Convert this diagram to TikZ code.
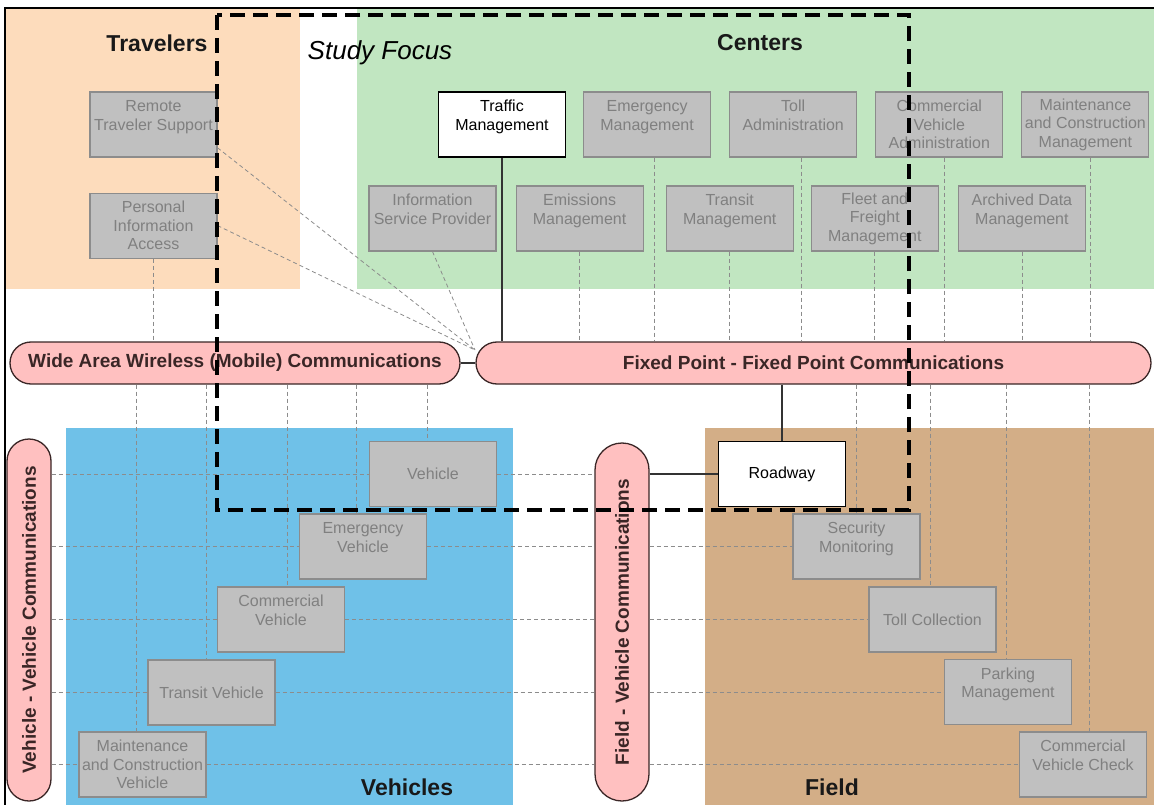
\documentclass[tikz,border=0pt]{standalone}
\usepackage{fontspec}
\setmainfont{Liberation Sans}
\usetikzlibrary{shapes.misc, positioning, calc}
\definecolor{travel_peach}{HTML}{FDDCBC}
\definecolor{center_green}{HTML}{C1E6C1}
\definecolor{vehicle_blue}{HTML}{6FC1E8}
\definecolor{field_tan}{HTML}{D3AE87}
\definecolor{bus_pink}{HTML}{FFC0C0}
\definecolor{bus_line}{HTML}{3A2626}
\definecolor{unit_gray}{HTML}{C0C0C0}
\tikzset{
  component/.style={rectangle,draw=black!45,fill=unit_gray,text=black!50,line width=1.1pt,minimum width=127pt,minimum height=65pt,inner sep=1pt,align=center,font={\fontsize{16pt}{18.5pt}\selectfont}},
  component_f/.style={component,draw=black,fill=white,text=black},
  commbus/.style={rounded rectangle,draw=bus_line,fill=bus_pink,line width=1.3pt,minimum height=42pt,inner sep=2pt,text=bus_line,font={\fontsize{19pt}{22pt}\selectfont\bfseries}},
  commbus_v/.style={commbus,rotate=90},
  grouplabel/.style={font={\fontsize{23pt}{26pt}\selectfont\bfseries},text=black!90},
  flow/.style={dash pattern=on 4pt off 3pt,draw=black!45,line width=0.8pt},
  wire/.style={draw=black!80,line width=1.1pt},
  focusframe/.style={draw=black,line width=4pt,dash pattern=on 15pt off 8pt},
}
\pgfdeclarelayer{back}
\pgfdeclarelayer{front}
\pgfsetlayers{back,main,front}

\begin{document}
\begin{tikzpicture}[x=1pt,y=-1pt]
	\useasboundingbox (0,0) rectangle (1154,805);
	\begin{pgfonlayer}{back}
	    \fill[travel_peach] (6,9) rectangle (300,289);
	    \fill[center_green] (357,9) rectangle (1154,289);
	    \fill[vehicle_blue] (66,428) rectangle (513,805);
	    \fill[field_tan] (705,428) rectangle (1154,805);
	    \draw[line width=2pt] (5,805) -- (5,8) -- (1154,8);
	\end{pgfonlayer}
	    % group titles
	    \node[grouplabel] (travelers) at (157,43) {Travelers};
	    \node[grouplabel] (centers) at (760,43) {Centers};
	    \node[grouplabel] (vehicles) at (407,787) {Vehicles};
	    \node[grouplabel] (field) at (832,787) {Field};
	    \node[font={\fontsize{26pt}{30pt}\selectfont\itshape}] (focus) at (380,53) {Study Focus};
	    % travelers
	    \node[component] (rts) at (153.5,124.5) {Remote\\Traveler Support\\\mbox{}};
	    \node[component,below=35pt of rts] (pia) {Personal\\Information\\Access};
	    % centers
	    \node[component_f] (tm) at (502,124.5) {Traffic\\Management\\\mbox{}};
	    \node[component,right=17pt of tm] (em) {Emergency\\Management\\\mbox{}};
	    \node[component,right=18pt of em] (ta) {Toll\\Administration\\\mbox{}};
	    \node[component,right=18pt of ta] (cva) {Commercial\\Vehicle\\Administration};
	    \node[component,right=18pt of cva] (mcm) {Maintenance\\and Construction\\Management};
	    \node[component] (isp) at (432.5,218.5) {Information\\Service Provider\\\mbox{}};
	    \node[component,right=19pt of isp] (emis) {Emissions\\Management\\\mbox{}};
	    \node[component,right=22pt of emis] (trm) {Transit\\Management\\\mbox{}};
	    \node[component,right=17pt of trm] (ffm) {Fleet and\\Freight\\Management};
	    \node[component,right=19pt of ffm] (adm) {Archived Data\\Management\\\mbox{}};
	    % vehicles
	    \node[component] (veh) at (433,474) {Vehicle};
	    \node[component] (ev) at (363,546.5) {Emergency\\Vehicle\\\mbox{}};
	    \node[component] (cv) at (281,619.5) {Commercial\\Vehicle\\\mbox{}};
	    \node[component] (tv) at (211.5,692.5) {Transit Vehicle};
	    \node[component] (mcv) at (142.5,764.5) {Maintenance\\and Construction\\Vehicle};
	    % field
	    \node[component_f] (road) at (782,474) {Roadway};
	    \node[component] (sec) at (856.5,546.5) {Security\\Monitoring\\\mbox{}};
	    \node[component] (tc) at (932.5,619.5) {Toll Collection};
	    \node[component] (pm) at (1008,692) {Parking\\Management\\\mbox{}};
	    \node[component] (cvc) at (1083,764.5) {Commercial\\Vehicle Check\\\mbox{}};
	    % communications
	    \node[commbus,minimum width=454pt] (wide) at (235,363) {Wide Area Wireless (Mobile) Communications};
	    \node[commbus,minimum width=679pt] (fixed) at (813.5,363) {Fixed Point - Fixed Point Communications};
	    \node[commbus_v,minimum width=366pt,minimum height=44pt] (vvc) at (29,620) {Vehicle - Vehicle Communications};
	    \node[commbus_v,minimum width=362pt,minimum height=54pt] (fvc) at (622,622) {Field - Vehicle Communications};
	    \coordinate (hub) at (475,350);
	    % links
	    \draw[wire] (wide.east) -- (fixed.west);
	    \draw[wire] (tm.south) -- (tm.south |- fixed.north);
	    \draw[wire] (road.north |- fixed.south) -- (road.north);
	    \draw[wire] (road.west -| fvc.south) -- (road.west);
	    \draw[flow] (pia.south) -- (pia.south |- wide.north);
	    \draw[flow] (rts.-20) -- (hub);
	    \draw[flow] (pia.east) -- (hub);
	    \draw[flow] (isp.south) -- (hub);
	    \foreach \n/\dx in {em/7,emis/0,trm/0,ta/8,ffm/0,cva/5,adm/0,mcm/5}
	      \draw[flow] ($(\n.south)+(\dx,0)$) -- ($(\n.south |- fixed.north)+(\dx,0)$);
	    \foreach \n/\dx in {veh/-6,ev/-7,cv/6,tv/-5,mcv/-6}
	      \draw[flow] ($(\n.north |- wide.south)+(\dx,0)$) -- ($(\n.north)+(\dx,0)$);
	    \foreach \n/\dx in {sec/0,tc/-2,pm/-2,cvc/6}
	      \draw[flow] ($(\n.north |- fixed.south)+(\dx,0)$) -- ($(\n.north)+(\dx,0)$);
	    \foreach \n in {veh,ev,cv,tv,mcv}{
	      \draw[flow] (\n.west -| vvc.south) -- (\n.west);
	      \draw[flow] (\n.east) -- (\n.east -| fvc.north);
	    }
	    \foreach \n in {sec,tc,pm,cvc}
	      \draw[flow] (\n.west -| fvc.south) -- (\n.west);
	\begin{pgfonlayer}{front}
	    \draw[focusframe] (217,15) rectangle (909,510);
	\end{pgfonlayer}
	\end{tikzpicture}
\end{document}
